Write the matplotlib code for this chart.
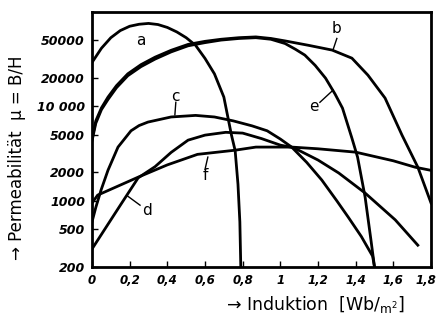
import matplotlib
matplotlib.use('Agg')
import matplotlib.pyplot as plt
from matplotlib.ticker import FixedLocator, FixedFormatter, NullLocator
from matplotlib.transforms import ScaledTranslation

# curve data (B in Wb/m2, permeability mu)
a_x = [0, 0.05, 0.1, 0.15, 0.2, 0.25, 0.3, 0.35, 0.4, 0.45, 0.5, 0.55, 0.6, 0.65, 0.7, 0.74, 0.76, 0.775, 0.785, 0.79]
a_y = [29000, 41000, 53000, 63000, 70000, 73500, 75000, 73000, 68000, 61000, 53000, 44000, 32000, 22000, 12500,
       5000, 3400, 1500, 600, 200]

b_x = [0, 0.02, 0.05, 0.085, 0.13, 0.19, 0.26, 0.335, 0.42, 0.51, 0.6, 0.685, 0.78, 0.87, 0.95, 1.025,
       1.15, 1.275, 1.38, 1.465, 1.556, 1.646, 1.73, 1.8]
b_y = [4500, 7000, 9600, 12500, 16500, 22000, 27500, 33000, 39000, 45000, 48500, 51000, 53000, 54000, 52000, 49000,
       44000, 39200, 32200, 21300, 12200, 4950, 2270, 950]

e_x = [0, 0.02, 0.05, 0.085, 0.13, 0.19, 0.26, 0.335, 0.42, 0.51, 0.6, 0.685, 0.78, 0.87, 0.95, 1.025,
       1.08, 1.13, 1.185, 1.24, 1.29, 1.33, 1.38, 1.41, 1.45, 1.48, 1.5]
e_y = [4300, 6600, 9200, 11800, 15700, 21000, 26200, 31500, 37500, 43500, 47000, 50000, 52000, 53000, 51000, 46000,
       40000, 34700, 27000, 19800, 13500, 9550, 4600, 2900, 1100, 400, 200]

c_x = [0, 0.02, 0.048, 0.085, 0.138, 0.207, 0.25, 0.297, 0.42, 0.55, 0.65, 0.75, 0.85, 0.93, 1.0, 1.06,
       1.14, 1.22, 1.3, 1.36, 1.43, 1.49, 1.5]
c_y = [600, 850, 1300, 2110, 3700, 5500, 6250, 6800, 7700, 8000, 7700, 7000, 6200, 5500, 4500, 3700,
       2550, 1660, 1000, 675, 420, 260, 200]

d_x = [0, 0.1, 0.155, 0.245, 0.335, 0.42, 0.51, 0.6, 0.71, 0.8, 0.9, 1.0, 1.07, 1.2, 1.31, 1.45, 1.61, 1.73]
d_y = [310, 630, 930, 1750, 2300, 3250, 4380, 4950, 5300, 5200, 4550, 3880, 3650, 2700, 1970, 1210, 630, 340]

f_x = [0, 0.03, 0.245, 0.4, 0.56, 0.76, 0.87, 1.06, 1.2, 1.4, 1.6, 1.715, 1.8]
f_y = [950, 1150, 1780, 2400, 3100, 3430, 3700, 3700, 3550, 3270, 2650, 2270, 2100]

x_ticks = [0, 0.2, 0.4, 0.6, 0.8, 1.0, 1.2, 1.4, 1.6, 1.8]
x_labels = ['0', '0,2', '0,4', '0,6', '0,8', '1', '1,2', '1,4', '1,6', '1,8']
y_ticks = [200, 500, 1000, 2000, 5000, 10000, 20000, 50000]
y_labels = ['200', '500', '1000', '2000', '5000', '10 000', '20000', '50000']

# curve labels: (text, text pos, leader start, leader end)
curve_labels = [
    ('a', (0.26, 50000), None, None),
    ('b', (1.30, 66000), (1.30, 52000), (1.28, 39500)),
    ('e', (1.18, 10000), (1.21, 11000), (1.28, 14800)),
    ('c', (0.44, 12800), (0.445, 11000), (0.44, 8100)),
    ('f', (0.60, 1850), (0.60, 2150), (0.615, 2900)),
    ('d', (0.29, 800), (0.255, 900), (0.19, 1120)),
]

fig = plt.figure(figsize=(4.39, 3.22), dpi=100)
ax = fig.add_axes([0.2096, 0.1708, 0.7722, 0.7919])

for xs, ys in [(a_x, a_y), (b_x, b_y), (e_x, e_y), (c_x, c_y), (d_x, d_y), (f_x, f_y)]:
    ax.plot(xs, ys, color='black', lw=2.0, solid_joinstyle='round')

for name, pos, p0, p1 in curve_labels:
    ax.text(pos[0], pos[1], name, fontsize=11, ha='center', va='center', color='black')
    if p0 is not None:
        ax.plot([p0[0], p1[0]], [p0[1], p1[1]], color='black', lw=1.0)

ax.set_yscale('log')
ax.set_xlim(0, 1.8)
ax.set_ylim(200, 99000)
ax.xaxis.set_major_locator(FixedLocator(x_ticks))
ax.xaxis.set_major_formatter(FixedFormatter(x_labels))
ax.yaxis.set_major_locator(FixedLocator(y_ticks))
ax.yaxis.set_major_formatter(FixedFormatter(y_labels))
ax.yaxis.set_minor_locator(NullLocator())
ax.tick_params(direction='in', length=4, width=1.0, pad=5)
for lab in ax.get_xticklabels():
    lab.set_fontsize(8.5)
for lab in ax.get_yticklabels():
    lab.set_fontsize(9)
for lab in ax.get_xticklabels() + ax.get_yticklabels():
    lab.set_fontstyle('italic')
    lab.set_fontweight('bold')
# nudge the last x label so it stays inside the image
last = ax.get_xticklabels()[-1]
last.set_transform(last.get_transform() + ScaledTranslation(-5 / 100, 0, fig.dpi_scale_trans))
for sp in ax.spines.values():
    sp.set_linewidth(2.0)

fig.text(0.039, 0.51, '\u2192 Permeabilit\u00e4t  \u03bc = B/H', rotation=90,
         ha='center', va='center', fontsize=12)
fig.text(0.718, 0.053, '\u2192 Induktion  [Wb/$_{\\mathrm{m}^2}$]',
         ha='center', va='center', fontsize=12.5)

fig.savefig('out.png', dpi=100)
